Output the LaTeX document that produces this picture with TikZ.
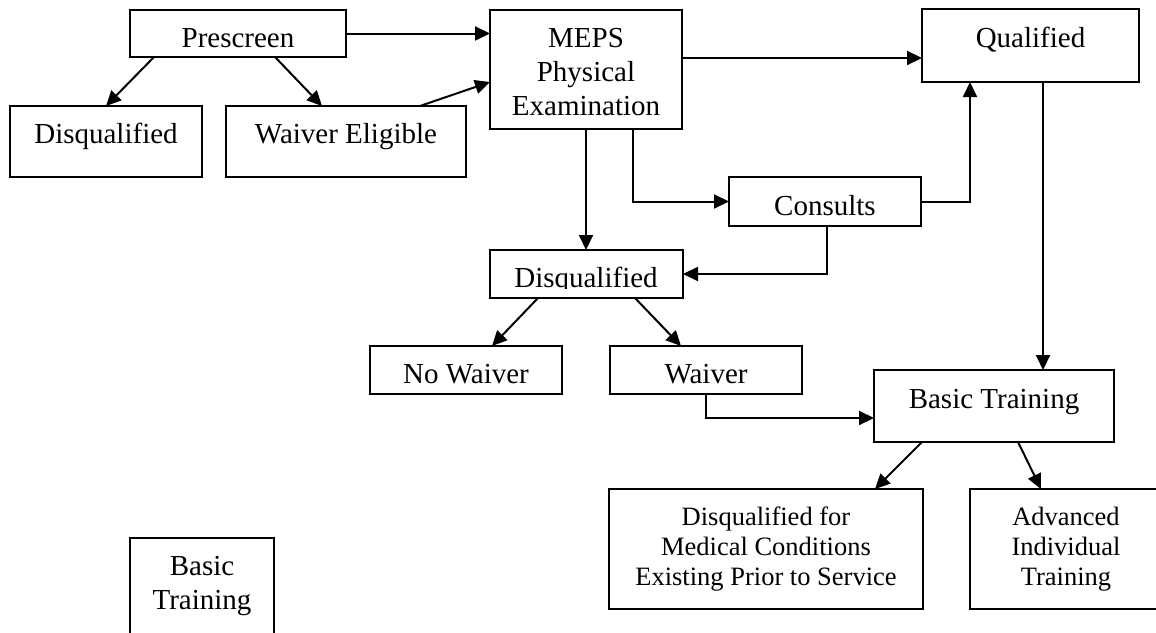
\documentclass[tikz,border=0pt]{standalone}
\usepackage{fontspec}
\setmainfont{Liberation Serif}
\usetikzlibrary{arrows.meta,calc}
\newcommand{\bxt}[4]{\raisebox{#1pt}[0pt][0pt]{\fontsize{#2pt}{#3pt}\selectfont\begin{tabular}[t]{@{}c@{}}#4\end{tabular}}}
\tikzset{
  box/.style={draw, line width=2pt, inner sep=0pt, outer sep=0pt, rectangle, fill=white},
  arr/.style={line width=2pt, -{Triangle[length=15pt,width=14pt]}},
}
\begin{document}
\begin{tikzpicture}[x=1pt,y=-1pt]
\useasboundingbox (0,0) rectangle (1156,632);
\clip (0,0) rectangle (1156,632);
\fill[white] (0,0) rectangle (1156,632);

% nodes
\node[box, minimum width=216pt, minimum height=47pt] (pre) at (238,33.5) {\bxt{-13.5}{29}{34}{Prescreen}};
\node[box, minimum width=192pt, minimum height=71pt] (dql) at (106,141.5) {\bxt{-1.5}{29}{34}{Disqualified}};
\node[box, minimum width=240pt, minimum height=71pt] (we) at (346,141.5) {\bxt{-1.5}{29}{34}{Waiver Eligible}};
\node[box, minimum width=192pt, minimum height=119pt] (meps) at (586,69.5) {\bxt{22.5}{29}{34}{MEPS\\Physical\\Examination}};
\node[box, minimum width=217pt, minimum height=73pt] (qual) at (1030.5,45.5) {\bxt{-1.5}{29}{34}{Qualified}};
\node[box, minimum width=192pt, minimum height=49pt] (cons) at (825,201.5) {\bxt{-13.5}{29}{34}{Consults}};
\node[box, minimum width=193pt, minimum height=48pt] (dqm) at (586.5,274) {};
\begin{scope}
  \clip (dqm.north west) rectangle ($(dqm.south east)+(0,-10)$);
  \node[anchor=base, inner sep=0pt, font=\fontsize{29pt}{34pt}\selectfont] (dqmtext) at (586,287) {Disqualified};
\end{scope}
\node[box, minimum width=192pt, minimum height=48pt] (nw) at (466,370) {\bxt{-13}{29}{34}{No Waiver}};
\node[box, minimum width=192pt, minimum height=48pt] (wv) at (706,370) {\bxt{-13}{29}{34}{Waiver}};
\node[box, minimum width=240pt, minimum height=72pt] (bt) at (994,406) {\bxt{-2}{29}{34}{Basic Training}};
\node[box, minimum width=314pt, minimum height=120pt] (dmed) at (766,549) {\bxt{24}{26.5}{30}{Disqualified for\\Medical Conditions\\Existing Prior to Service}};
\node[box, minimum width=192pt, minimum height=120pt] (ait) at (1066,549) {\bxt{24}{26.5}{30}{Advanced\\Individual\\Training}};
\node[box, minimum width=144pt, minimum height=122pt] (bt2) at (202,599) {\bxt{24}{29}{34}{Basic\\Training}};

% connectors
\draw[arr] ($(pre.south)+(-84,0)$) -- (dql.north);
\draw[arr] ($(pre.south)+(37,0)$) -- ($(we.north)+(-24,0)$);
\draw[arr] (pre.east) -- (pre.east -| meps.west);
\draw[arr] ($(we.north)+(74,0)$) -- ($(meps.west)+(0,12.5)$);
\draw[arr] ($(meps.east)+(0,-11.5)$) -- ($(qual.west)+(0,12.5)$);
\draw[arr] (meps.south) -- (meps.south |- dqm.north);
\draw[arr] ($(meps.south)+(47,0)$) |- (cons.west);
\draw[arr] (cons.east) -| ($(qual.south)+(-60.5,0)$);
\draw[arr] ($(cons.south)+(2,0)$) |- (dqm.east);
\draw[arr] ($(dqm.south)+(-48.5,0)$) -- ($(nw.north)+(26,0)$);
\draw[arr] ($(dqm.south)+(48.5,0)$) -- ($(wv.north)+(-25,0)$);
\draw[arr] (wv.south) |- ($(bt.west)+(0,12)$);
\draw[arr] ($(qual.south)+(12.5,0)$) -- ($(bt.north)+(49,0)$);
\draw[arr] ($(bt.south)+(-72,0)$) -- ($(dmed.north)+(109,0)$);
\draw[arr] ($(bt.south)+(24,0)$) -- ($(ait.north)+(-25,0)$);
\end{tikzpicture}
\end{document}
